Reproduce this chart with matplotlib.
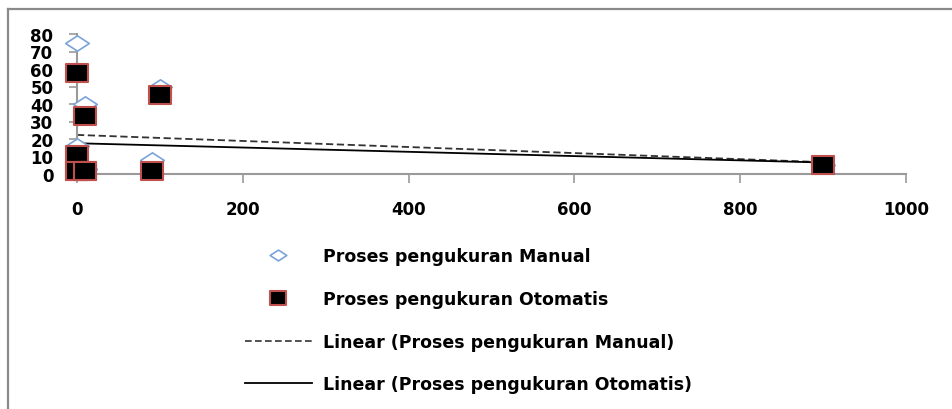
import numpy as np
import matplotlib
matplotlib.use("Agg")
import matplotlib.pyplot as plt
from matplotlib.lines import Line2D
from matplotlib.path import Path

# measurement data: waktu (x) vs hasil (y) for both processes
manual_x = [0, 10, 100, 90, 900, 0, 10, 0, 0, 10]
manual_y = [75, 40, 50, 8, 5, 16, 3, 2, 2, 3]
otomatis_x = [0, 10, 100, 90, 900, 0, 10, 0, 0, 10]
otomatis_y = [58, 33, 45, 2, 5, 11, 2, 2, 2, 2]

x_ticks = [0, 200, 400, 600, 800, 1000]
y_ticks = [0, 10, 20, 30, 40, 50, 60, 70, 80]

labels = ["Proses pengukuran Manual",
          "Proses pengukuran Otomatis",
          "Linear (Proses pengukuran Manual)",
          "Linear (Proses pengukuran Otomatis)"]

W, H = 952, 410
plt.rcParams['font.family'] = ['DejaVu Sans']

# slightly wide markers
diamond = Path([(-1, 0), (0, 0.65), (1, 0), (0, -0.65), (-1, 0)],
               [Path.MOVETO, Path.LINETO, Path.LINETO, Path.LINETO, Path.CLOSEPOLY])
square = Path([(-1, -0.85), (1, -0.85), (1, 0.85), (-1, 0.85), (-1, -0.85)],
              [Path.MOVETO, Path.LINETO, Path.LINETO, Path.LINETO, Path.CLOSEPOLY])

blue = '#7BA3DA'
red = '#C0504D'
grey = '#9A9A9A'

fig = plt.figure(figsize=(W / 100, H / 100), dpi=100)
fig.patch.set_facecolor('white')

# outer chart frame (top and left edges)
fig.add_artist(Line2D([8 / W, 8 / W], [0, 1 - 10 / H], color='#8A8A8A', lw=1.6))
fig.add_artist(Line2D([8 / W, 1], [1 - 10 / H, 1 - 10 / H], color='#8A8A8A', lw=1.6))

ax = fig.add_axes([77 / W, 1 - 175 / H, 829 / W, 140 / H])

# linear trendlines over the data range
for xs, ys, ls in [(manual_x, manual_y, (0, (4, 2))), (otomatis_x, otomatis_y, '-')]:
    k, b = np.polyfit(xs, ys, 1)
    xx = np.array([min(xs), max(xs)])
    ax.plot(xx, k * xx + b, color='black' if ls == '-' else '#333333',
            lw=1.3, ls=ls, zorder=2)

ax.plot(manual_x, manual_y, ls='none', marker=diamond, markersize=17,
        markerfacecolor='white', markeredgecolor=blue, markeredgewidth=1.2,
        clip_on=False, zorder=3)
ax.plot(otomatis_x, otomatis_y, ls='none', marker=square, markersize=16,
        markerfacecolor='black', markeredgecolor=red, markeredgewidth=1.5,
        clip_on=False, zorder=4)

ax.set_xlim(0, 1000)
ax.set_ylim(0, 80)
ax.set_xticks(x_ticks)
ax.set_yticks(y_ticks)
ax.set_xticklabels([str(v) for v in x_ticks], fontweight='bold', fontsize=12)
ax.set_yticklabels([str(v) for v in y_ticks], fontweight='bold', fontsize=12)
for s in ['top', 'right']:
    ax.spines[s].set_visible(False)
for s in ['left', 'bottom']:
    ax.spines[s].set_color(grey)
    ax.spines[s].set_linewidth(1.5)
ax.tick_params(axis='x', direction='out', length=6.5, width=1.2, color=grey, pad=12)
ax.tick_params(axis='y', direction='out', length=6, width=1.2, color=grey, pad=11)
ax.set_facecolor('none')

handles = [
    Line2D([], [], ls='none', marker=diamond, markersize=12, markerfacecolor='white',
           markeredgecolor=blue, markeredgewidth=1.2),
    Line2D([], [], ls='none', marker=square, markersize=12, markerfacecolor='black',
           markeredgecolor=red, markeredgewidth=1.5),
    Line2D([], [], color='#333333', lw=1.2, ls=(0, (4, 2))),
    Line2D([], [], color='black', lw=1.3),
]
fig.legend(handles, labels, loc='upper left', bbox_to_anchor=(245 / W, 1 - 248 / H),
           frameon=False, borderpad=0, borderaxespad=0, handlelength=3.85,
           handletextpad=0.63, labelspacing=1.43,
           prop={'weight': 'bold', 'size': 12.5})

fig.savefig('out.png', dpi=100, facecolor='white')
